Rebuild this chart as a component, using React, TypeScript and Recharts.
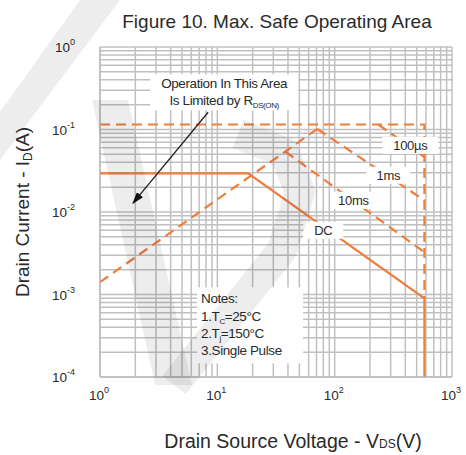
import React from 'react';
import { LineChart, Line, XAxis, YAxis, CartesianGrid, ReferenceDot } from 'recharts';

const ORANGE = '#ef7d3c';
const FONT = '"Liberation Sans", Arial, Helvetica, sans-serif';
const TEXT = '#2a2a2a';

// grid ticks (log decades with minor lines)
const xGridTicks = [1, 2, 3, 4, 5, 6, 7, 8, 9, 10, 20, 30, 40, 50, 60, 70, 80, 90, 100, 200, 300, 400, 500, 600, 700, 800, 900, 1000];
const yGridTicks = [
  0.0001, 0.0002, 0.0003, 0.0004, 0.0005, 0.0006, 0.0007, 0.0008, 0.0009,
  0.001, 0.002, 0.003, 0.004, 0.005, 0.006, 0.007, 0.008, 0.009,
  0.01, 0.02, 0.03, 0.04, 0.05, 0.06, 0.07, 0.08, 0.09,
  0.1, 0.2, 0.3, 0.4, 0.5, 0.6, 0.7, 0.8, 0.9, 1,
];

// labelled decades
const xLabelTicks = [1, 10, 100, 1000];
const xLabelExps = ['0', '1', '2', '3'];
const yLabelTicks = [1, 0.1, 0.01, 0.001, 0.0001];
const yLabelExps = ['0', '-1', '-2', '-3', '-4'];

// SOA boundary curves (VDS in V, ID in A)
const limitTop = [{ x: 1, y: 0.115 }, { x: 582, y: 0.115 }, { x: 582, y: 0.0009 }];
const curve100us = [{ x: 235, y: 0.115 }, { x: 582, y: 0.0464 }];
const rdsOnLimit = [{ x: 1, y: 0.00141 }, { x: 71, y: 0.1015 }];
const curve1ms = [{ x: 71, y: 0.1015 }, { x: 582, y: 0.01386 }];
const curve10ms = [{ x: 37.9, y: 0.054 }, { x: 582, y: 0.00325 }];
const curveDC = [{ x: 1, y: 0.0294 }, { x: 18.3, y: 0.0294 }, { x: 582, y: 0.0009 }, { x: 582, y: 0.0001 }];

// annotation arrow
const arrowLine = [{ x: 8.35, y: 0.162 }, { x: 1.91, y: 0.0128 }];

// curve labels
const curveLabels = [
  { x: 441.6, y: 0.0643, text: '100µs', w: 56 },
  { x: 286.6, y: 0.0279, text: '1ms', w: 44 },
  { x: 144.2, y: 0.01386, text: '10ms', w: 42 },
  { x: 80, y: 0.006, text: 'DC', w: 40 },
];
const opAnchor = { x: 11.43, y: 0.2825 };
const notesAnchor = { x: 6.72, y: 0.00122 };

const XTick = (props: any) => {
  const { x, y, payload } = props;
  const i = xLabelTicks.indexOf(payload.value);
  if (i < 0) return <g />;
  return (
    <text x={x - 1} y={y + 23} textAnchor="middle" fontSize={13.5} fill={TEXT} fontFamily={FONT}>
      <tspan>10</tspan>
      <tspan dy={-7} fontSize={9}>{xLabelExps[i]}</tspan>
    </text>
  );
};

const YTick = (props: any) => {
  const { x, y, payload } = props;
  const i = yLabelTicks.indexOf(payload.value);
  if (i < 0) return <g />;
  return (
    <text x={x - 25} y={y + 5} textAnchor="end" fontSize={13.5} fill={TEXT} fontFamily={FONT}>
      <tspan>10</tspan>
      <tspan dy={-7} fontSize={9}>{yLabelExps[i]}</tspan>
    </text>
  );
};

const CurveLabel = (text: string, w: number) => (p: any) => (
  <g>
    <rect x={p.cx - w / 2} y={p.cy - 8.5} width={w} height={17} fill="#fff" />
    <text x={p.cx} y={p.cy + 4.5} textAnchor="middle" fontSize={13} fill={TEXT} fontFamily={FONT} letterSpacing={-0.3}>
      {text}
    </text>
  </g>
);

const OpLabel = (p: any) => (
  <g>
    <rect x={p.cx - 74} y={p.cy - 18} width={148} height={36} fill="#fff" />
    <text x={p.cx} y={p.cy - 4} textAnchor="middle" fontSize={13.5} fill={TEXT} fontFamily={FONT} letterSpacing={-0.4}>
      Operation In This Area
    </text>
    <text x={p.cx} y={p.cy + 13} textAnchor="middle" fontSize={13.5} fill={TEXT} fontFamily={FONT} letterSpacing={-0.4}>
      <tspan>Is Limited by R</tspan>
      <tspan fontSize={8} dy={3}>DS(ON)</tspan>
    </text>
  </g>
);

const NotesLabel = (p: any) => (
  <g>
    <rect x={p.cx} y={p.cy} width={106} height={76} fill="#fff" />
    <text x={p.cx + 4} y={p.cy + 16} fontSize={13.5} fill={TEXT} fontFamily={FONT} letterSpacing={-0.4}>Notes:</text>
    <text x={p.cx + 4} y={p.cy + 34} fontSize={13.5} fill={TEXT} fontFamily={FONT} letterSpacing={-0.4}>
      <tspan>1.T</tspan><tspan fontSize={8} dy={3}>C</tspan><tspan dy={-3}>=25°C</tspan>
    </text>
    <text x={p.cx + 4} y={p.cy + 51} fontSize={13.5} fill={TEXT} fontFamily={FONT} letterSpacing={-0.4}>
      <tspan>2.T</tspan><tspan fontSize={8} dy={3}>j</tspan><tspan dy={-3}>=150°C</tspan>
    </text>
    <text x={p.cx + 4} y={p.cy + 68} fontSize={13.5} fill={TEXT} fontFamily={FONT} letterSpacing={-0.4}>
      3.Single Pulse
    </text>
  </g>
);

export default function App() {
  const dashed = '10 6';
  return (
    <div style={{ position: 'absolute', left: 0, top: 0, width: 466, height: 455, background: '#fff', overflow: 'hidden' }}>
      <svg width={0} height={0} style={{ position: 'absolute' }}>
        <defs>
          <marker id="arrowHead" viewBox="0 0 12 8" refX="11" refY="4" markerWidth="12" markerHeight="8" orient="auto" markerUnits="userSpaceOnUse">
            <path d="M0,0 L12,4 L0,8 z" fill="#111" />
          </marker>
        </defs>
      </svg>
      <LineChart width={466} height={455} margin={{ top: 47, right: 14, bottom: 0, left: 0 }}>
        <CartesianGrid stroke="#c0c0c0" strokeWidth={1.5} />
        <XAxis
          dataKey="x"
          type="number"
          scale="log"
          domain={[1, 1000]}
          allowDataOverflow
          ticks={xGridTicks}
          interval={0}
          tick={<XTick />}
          tickLine={false}
          tickSize={0}
          tickMargin={0}
          axisLine={{ stroke: '#b5b5b5' }}
          height={78}
        />
        <YAxis
          type="number"
          scale="log"
          domain={[0.0001, 1]}
          allowDataOverflow
          ticks={yGridTicks}
          interval={0}
          tick={<YTick />}
          tickLine={false}
          tickSize={0}
          tickMargin={0}
          axisLine={{ stroke: '#b5b5b5' }}
          width={100}
        />
        <Line data={limitTop} dataKey="y" type="linear" stroke={ORANGE} strokeWidth={2.2} strokeDasharray={dashed} dot={false} isAnimationActive={false} />
        <Line data={curve100us} dataKey="y" type="linear" stroke={ORANGE} strokeWidth={2.2} strokeDasharray={dashed} dot={false} isAnimationActive={false} />
        <Line data={rdsOnLimit} dataKey="y" type="linear" stroke={ORANGE} strokeWidth={2.2} strokeDasharray={dashed} dot={false} isAnimationActive={false} />
        <Line data={curve1ms} dataKey="y" type="linear" stroke={ORANGE} strokeWidth={2.2} strokeDasharray={dashed} dot={false} isAnimationActive={false} />
        <Line data={curve10ms} dataKey="y" type="linear" stroke={ORANGE} strokeWidth={2.2} strokeDasharray={dashed} dot={false} isAnimationActive={false} />
        <Line data={curveDC} dataKey="y" type="linear" stroke={ORANGE} strokeWidth={2.2} dot={false} isAnimationActive={false} />
        <Line data={arrowLine} dataKey="y" type="linear" stroke="#222" strokeWidth={1.3} dot={false} markerEnd="url(#arrowHead)" isAnimationActive={false} />
        {curveLabels.map((l) => (
          <ReferenceDot key={l.text} x={l.x} y={l.y} r={0} ifOverflow="visible" shape={CurveLabel(l.text, l.w)} />
        ))}
        <ReferenceDot x={opAnchor.x} y={opAnchor.y} r={0} ifOverflow="visible" shape={OpLabel} />
        <ReferenceDot x={notesAnchor.x} y={notesAnchor.y} r={0} ifOverflow="visible" shape={NotesLabel} />
      </LineChart>
      <svg width={466} height={455} style={{ position: 'absolute', left: 0, top: 0, pointerEvents: 'none' }}>
        <text x={277} y={28} textAnchor="middle" fontSize={19} fill={TEXT} fontFamily={FONT}>
          Figure 10. Max. Safe Operating Area
        </text>
        <text x={293} y={448} textAnchor="middle" fontSize={19.5} fill={TEXT} fontFamily={FONT}>
          <tspan>Drain Source Voltage - V</tspan>
          <tspan fontSize={12}>DS</tspan>
          <tspan>(V)</tspan>
        </text>
        <text x={29} y={212} textAnchor="middle" fontSize={19} fill={TEXT} fontFamily={FONT} transform="rotate(-90 29 212)">
          <tspan>Drain Current - I</tspan>
          <tspan fontSize={12} dy={3}>D</tspan>
          <tspan dy={-3}>(A)</tspan>
        </text>
        <g fill="#000" fillOpacity={0.07}>
          <polygon points="80,0 120,0 0,160 0,112" />
          <polygon points="92,100 128,100 192,385 155,385" />
        </g>
        <polyline points="238,134 284,152 300,192 282,250 174,385" fill="none" stroke="#000" strokeOpacity={0.07} strokeWidth={30} strokeLinejoin="round" />
      </svg>
    </div>
  );
}
